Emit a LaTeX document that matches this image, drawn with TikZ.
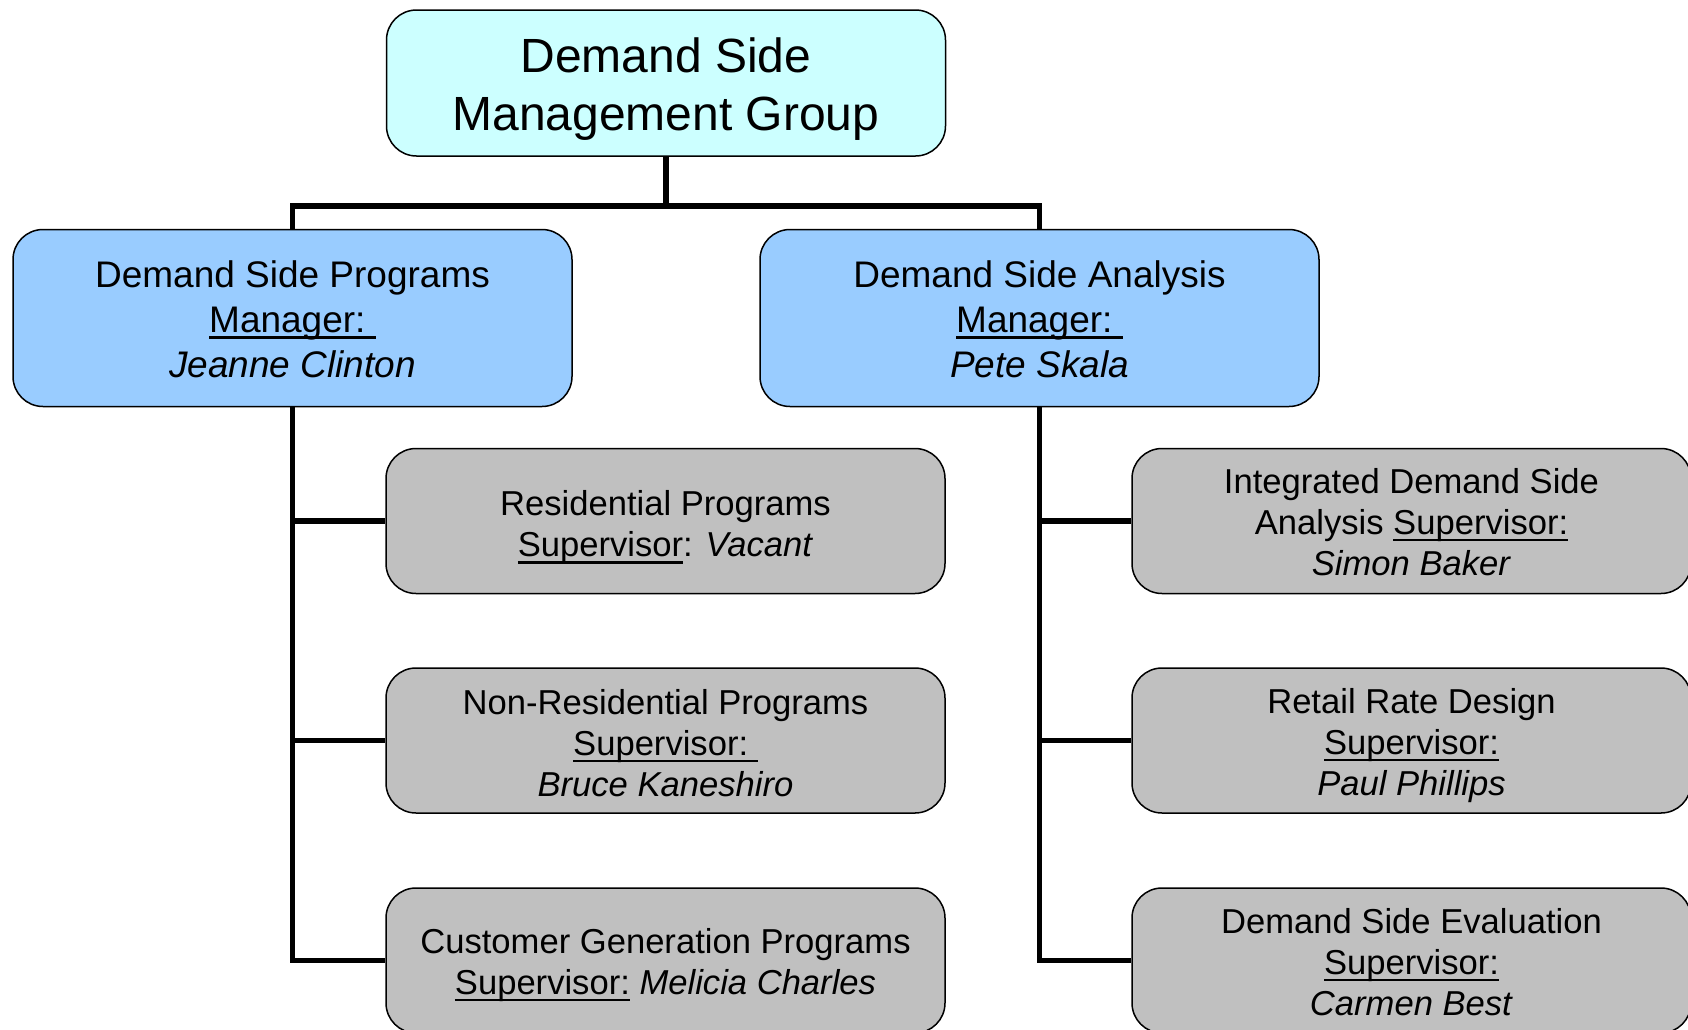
\documentclass[tikz,border=0pt]{standalone}
\usepackage{fontspec}
\setmainfont{Liberation Sans}
\newcommand{\myul}[1]{\leavevmode\setbox0=\hbox{#1}\rlap{\rule[-3.3pt]{\wd0}{1.1pt}}\box0\relax}
\newcommand{\tx}[2]{\raisebox{-#1}[\height][\depth]{\begin{tabular}{@{}c@{}}#2\end{tabular}}}
\definecolor{topfill}{HTML}{CCFFFF}
\definecolor{midfill}{HTML}{99CCFF}
\definecolor{botfill}{HTML}{C0C0C0}
\begin{document}
\begin{tikzpicture}[x=0.5pt,y=-0.5pt,
  orgbox/.style={draw=black, line width=0.75pt, rounded corners=15pt, inner sep=0pt, minimum width=279.5pt},
  topbox/.style={orgbox, fill=topfill, minimum height=73pt, font=\fontsize{24pt}{28.9pt}\selectfont},
  midbox/.style={orgbox, fill=midfill, minimum height=88.5pt, font=\fontsize{18.5pt}{22.5pt}\selectfont},
  botbox/.style={orgbox, fill=botfill, minimum height=72.5pt, font=\fontsize{17.3pt}{20.5pt}\selectfont},
  conn/.style={draw=black, line width=2.7pt}]
\useasboundingbox (0,0) rectangle (1688,1029);
\fill[white] (0,0) rectangle (1688,1029);

\node[topbox] (top) at (666,83) {\tx{3.3pt}{Demand Side\\Management Group}};
\node[midbox] (midL) at (292.5,318) {\tx{2.5pt}{Demand Side Programs\\\myul{Manager:\ }\\\textit{Jeanne Clinton}}};
\node[midbox] (midR) at (1039.5,318) {\tx{2.5pt}{Demand Side Analysis\\\myul{Manager:\ }\\\textit{Pete Skala}}};

\node[botbox] (bl1) at (665.5,521) {\tx{3.6pt}{Residential Programs\\\myul{Supervisor}: \textit{Vacant}}};
\node[botbox] (bl2) at (665.5,740.5) {\tx{3.3pt}{Non-Residential Programs\\\myul{Supervisor:\ }\\\textit{Bruce Kaneshiro}}};
\node[botbox] (bl3) at (665.5,960.5) {\tx{2.6pt}{Customer Generation Programs\\\myul{Supervisor:} \textit{Melicia Charles}}};

\node[botbox] (br1) at (1411.5,521) {\tx{2.7pt}{Integrated Demand Side\\Analysis \myul{Supervisor:}\\\textit{Simon Baker}}};
\node[botbox] (br2) at (1411.5,740.5) {\tx{2.9pt}{Retail Rate Design\\\myul{Supervisor:}\\\textit{Paul Phillips}}};
\node[botbox] (br3) at (1411.5,960.5) {\tx{2.7pt}{Demand Side Evaluation\\\myul{Supervisor:}\\\textit{Carmen Best}}};

\coordinate (j) at (666,206);
\draw[conn] (top.south) -- (j);
\draw[conn] (midL.north) -- (midL.north |- j) -- (midR.north |- j) -- (midR.north);

\draw[conn] (midL.south) |- (bl3.west);
\draw[conn] (midL.south |- bl1.west) -- (bl1.west);
\draw[conn] (midL.south |- bl2.west) -- (bl2.west);

\draw[conn] (midR.south) |- (br3.west);
\draw[conn] (midR.south |- br1.west) -- (br1.west);
\draw[conn] (midR.south |- br2.west) -- (br2.west);
\end{tikzpicture}
\end{document}
